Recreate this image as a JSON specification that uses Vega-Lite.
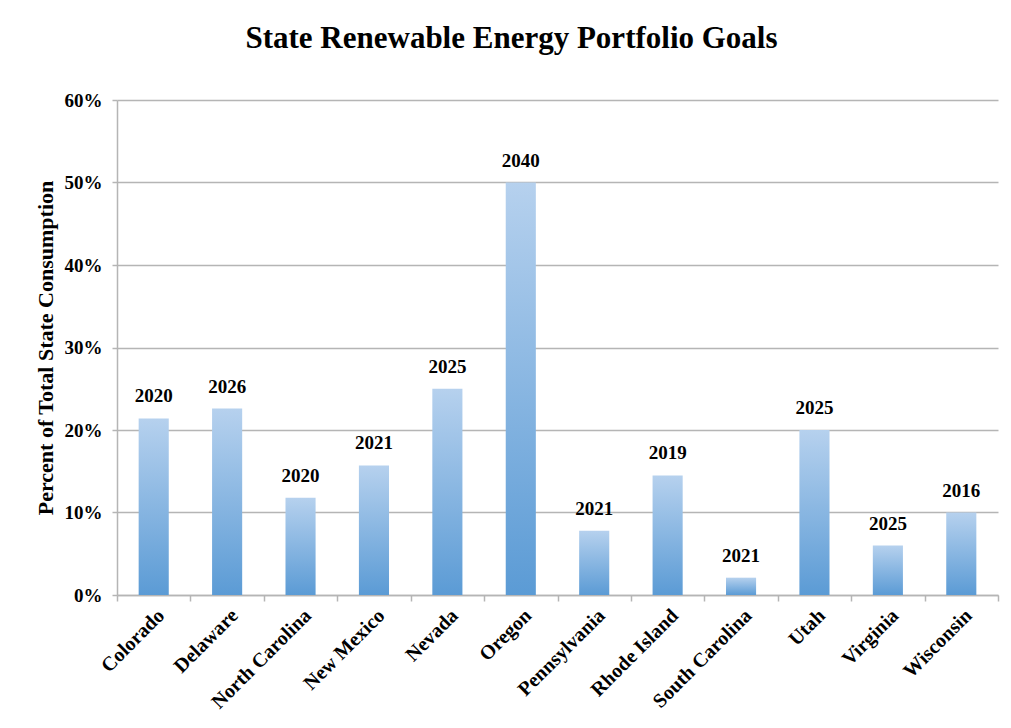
{
  "$schema": "https://vega.github.io/schema/vega-lite/v6.json",
  "width": 881,
  "height": 495,
  "autosize": {"type": "none"},
  "padding": {"left": 117, "top": 100, "right": 13, "bottom": 133},
  "background": "white",
  "title": {
    "text": "State Renewable Energy Portfolio Goals",
    "font": "Liberation Serif",
    "fontSize": 31,
    "fontWeight": "bold",
    "color": "black",
    "anchor": "middle",
    "dx": -46,
    "offset": 36
  },
  "config": {
    "view": {"stroke": null},
    "axis": {
      "labelFont": "Liberation Serif",
      "titleFont": "Liberation Serif",
      "labelColor": "black",
      "titleColor": "black",
      "domainColor": "#b5b5b5",
      "tickColor": "#b5b5b5",
      "gridColor": "#b5b5b5",
      "domainWidth": 1.5,
      "tickWidth": 1.5,
      "gridWidth": 1.5
    }
  },
  "data": {
    "values": [
      {"state": "Colorado", "pct": 0.214, "year": "2020"},
      {"state": "Delaware", "pct": 0.226, "year": "2026"},
      {"state": "North Carolina", "pct": 0.118, "year": "2020"},
      {"state": "New Mexico", "pct": 0.157, "year": "2021"},
      {"state": "Nevada", "pct": 0.25, "year": "2025"},
      {"state": "Oregon", "pct": 0.5, "year": "2040"},
      {"state": "Pennsylvania", "pct": 0.078, "year": "2021"},
      {"state": "Rhode Island", "pct": 0.145, "year": "2019"},
      {"state": "South Carolina", "pct": 0.021, "year": "2021"},
      {"state": "Utah", "pct": 0.2, "year": "2025"},
      {"state": "Virginia", "pct": 0.06, "year": "2025"},
      {"state": "Wisconsin", "pct": 0.1, "year": "2016"}
    ]
  },
  "encoding": {
    "x": {
      "field": "state",
      "type": "nominal",
      "sort": null,
      "scale": {"paddingInner": 0, "paddingOuter": 0},
      "axis": {
        "title": null,
        "labelAngle": -45,
        "labelFontSize": 20,
        "labelFontWeight": "bold",
        "tickBand": "extent",
        "tickSize": 6,
        "labelPadding": 4,
        "grid": false
      }
    },
    "y": {
      "field": "pct",
      "type": "quantitative",
      "scale": {"domain": [0, 0.6], "nice": false},
      "axis": {
        "title": "Percent of Total State Consumption",
        "titleFontSize": 22,
        "titleFontWeight": "bold",
        "titlePadding": 7,
        "format": ".0%",
        "values": [0, 0.1, 0.2, 0.3, 0.4, 0.5, 0.6],
        "labelFontSize": 19,
        "labelFontWeight": "bold",
        "labelPadding": 10,
        "tickSize": 5,
        "grid": true
      }
    }
  },
  "layer": [
    {
      "mark": {
        "type": "bar",
        "width": {"band": 0.41},
        "color": {
          "gradient": "linear",
          "x1": 0, "y1": 0, "x2": 0, "y2": 1,
          "stops": [
            {"offset": 0, "color": "#b6d1ee"},
            {"offset": 1, "color": "#5b9bd5"}
          ]
        }
      }
    },
    {
      "mark": {
        "type": "text",
        "font": "Liberation Serif",
        "fontSize": 19,
        "fontWeight": "bold",
        "color": "black",
        "baseline": "alphabetic",
        "dy": -16
      },
      "encoding": {"text": {"field": "year"}}
    }
  ]
}
